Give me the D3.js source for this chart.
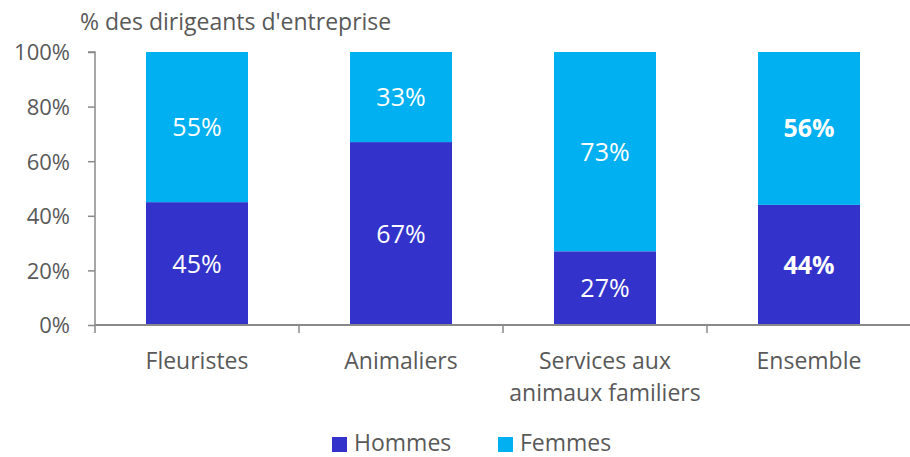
<!DOCTYPE html>
<html>
<head>
<meta charset="utf-8">
<script src="https://cdn.jsdelivr.net/npm/d3@7"></script>
<style>
  body { margin: 0; background: #fff; }
  svg text { font-family: "Open Sans", sans-serif; }
</style>
</head>
<body>
<svg id="chart" width="910" height="457"></svg>
<script>
// chart data
const categories = ["Fleuristes", "Animaliers", "Services aux\nanimaux familiers", "Ensemble"];
const hommes = [45, 67, 27, 44];
const femmes = [55, 33, 73, 56];
const yTicks = [0, 20, 40, 60, 80, 100];
const seriesNames = ["Hommes", "Femmes"];
const seriesColors = ["#3333cc", "#00b0f0"];

const svg = d3.select("#chart");
const margin = { left: 95, right: 0, top: 52, bottom: 132 };
const width = 910;
const height = 457;

const x = d3.scaleBand()
  .domain(categories)
  .range([margin.left, 911])
  .paddingInner(0.5)
  .paddingOuter(0.25);

const y = d3.scaleLinear()
  .domain([0, 100])
  .range([height - margin.bottom, margin.top]);

const rows = categories.map((c, i) => ({ cat: c, Hommes: hommes[i], Femmes: femmes[i], bold: c === "Ensemble" }));
const stacked = d3.stack().keys(seriesNames)(rows);

// title
svg.append("text")
  .attr("x", 80).attr("y", 30)
  .attr("font-size", 23).attr("fill", "#595959")
  .text("% des dirigeants d'entreprise");

// bars
const layers = svg.selectAll("g.layer").data(stacked).enter().append("g")
  .attr("fill", (d, i) => seriesColors[i]);

layers.selectAll("rect").data(d => d).enter().append("rect")
  .attr("x", d => x(d.data.cat))
  .attr("width", x.bandwidth())
  .attr("y", d => y(d[1]))
  .attr("height", d => y(d[0]) - y(d[1]));

// value labels
layers.selectAll("text").data(d => d.map(v => ({ v, key: d.key }))).enter().append("text")
  .attr("x", d => x(d.v.data.cat) + x.bandwidth() / 2)
  .attr("y", d => (y(d.v[0]) + y(d.v[1])) / 2 + 9)
  .attr("text-anchor", "middle")
  .attr("font-size", 25)
  .attr("font-weight", d => d.v.data.bold ? "bold" : "normal")
  .attr("fill", "#fff")
  .text(d => d.v.data[d.key] + "%");

// y axis
const yAxis = d3.axisLeft(y).tickValues(yTicks).tickSize(7).tickFormat(d => d + "%");
const gy = svg.append("g").attr("transform", `translate(${margin.left},0)`).call(yAxis);
gy.select(".domain").attr("stroke", "#898989").attr("stroke-width", 1.5)
  .attr("d", `M-7,${y(100)}H0V${y(0)}`);
gy.selectAll(".tick line").attr("stroke", "#898989").attr("stroke-width", 1.5);
gy.selectAll(".tick text")
  .attr("font-size", 22).attr("fill", "#595959").attr("x", -25).attr("dy", "0.36em")
  .style("font-family", "'Open Sans', sans-serif");

// x axis
const gx = svg.append("g").attr("transform", `translate(0,${y(0)})`);
gx.append("line").attr("x1", margin.left).attr("x2", 911)
  .attr("stroke", "#898989").attr("stroke-width", 2);
const bounds = categories.map(c => x(c) - x.step() * x.paddingInner() / 2);
gx.selectAll("line.tk").data(bounds).enter().append("line")
  .attr("class", "tk")
  .attr("x1", d => d).attr("x2", d => d)
  .attr("y1", 0).attr("y2", 8)
  .attr("stroke", "#898989").attr("stroke-width", 1.5);

gx.selectAll("text.cat").data(categories).enter().append("text")
  .attr("class", "cat")
  .attr("x", d => x(d) + x.bandwidth() / 2)
  .attr("text-anchor", "middle")
  .attr("font-size", 23).attr("fill", "#595959")
  .each(function (d) {
    d.split("\n").forEach((line, i) => {
      d3.select(this).append("tspan")
        .attr("x", x(d) + x.bandwidth() / 2)
        .attr("y", 44 + i * 32)
        .text(line);
    });
  });

// legend
const legendX = [332, 498];
const legend = svg.selectAll("g.leg").data(seriesNames).enter().append("g")
  .attr("transform", (d, i) => `translate(${legendX[i]},437)`);
legend.append("rect").attr("width", 15).attr("height", 15)
  .attr("fill", (d, i) => seriesColors[i]);
legend.append("text").attr("x", 22).attr("y", 14)
  .attr("font-size", 23).attr("fill", "#595959")
  .text(d => d);
</script>
</body>
</html>
